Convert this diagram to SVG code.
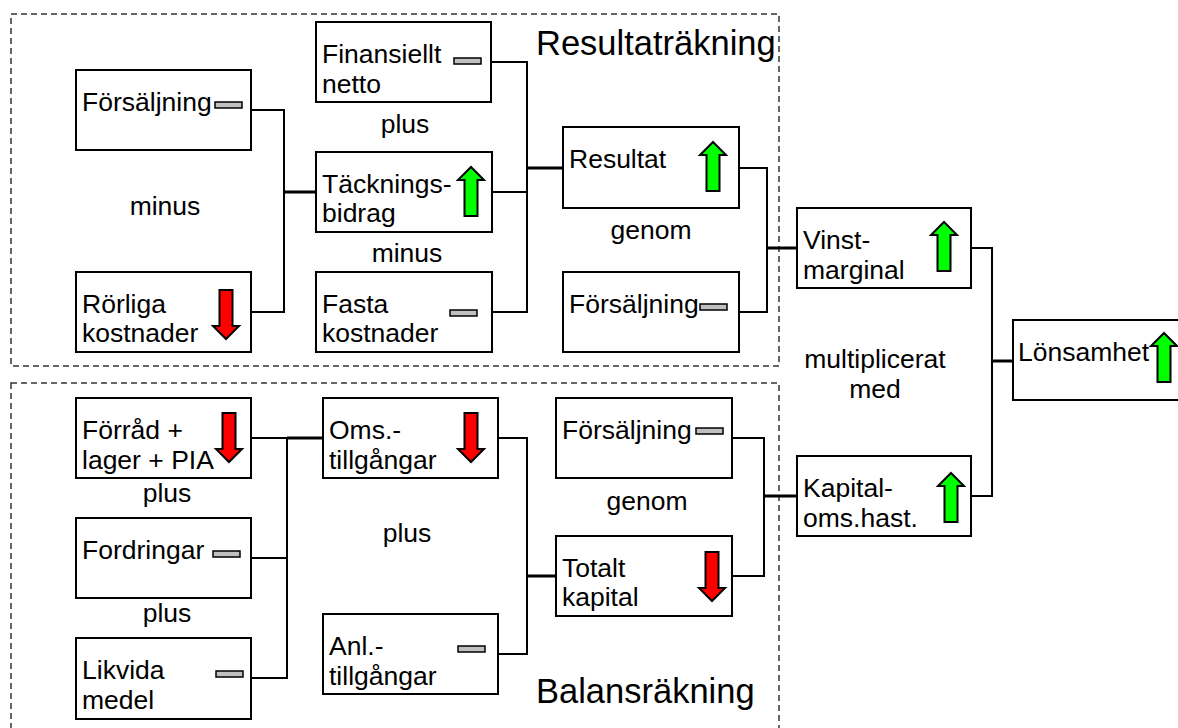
<svg xmlns="http://www.w3.org/2000/svg" width="1178" height="728" viewBox="0 0 1178 728">
  <style>
    .frame { fill: none; stroke: #333; stroke-width: 1.5; stroke-dasharray: 6 4; }
    .box { fill: #fff; stroke: #000; stroke-width: 2; }
    .lbl { font-family: "Liberation Sans", Arial, sans-serif; font-size: 26.5px; fill: #000; }
    .op { font-family: "Liberation Sans", Arial, sans-serif; font-size: 26.5px; fill: #000; text-anchor: middle; }
    .title { font-family: "Liberation Sans", Arial, sans-serif; font-size: 34.5px; fill: #000; }
    .wire { fill: none; stroke: #000; stroke-width: 2; }
    .wire.out { stroke-width: 3; }
    .flat { fill: #c0c0c0; stroke: #000; stroke-width: 1.5; }
    .up { fill: #00ff00; stroke: #000; stroke-width: 2; stroke-linejoin: miter; }
    .down { fill: #ff0000; stroke: #000; stroke-width: 2; stroke-linejoin: miter; }
  </style>
  <defs>
    <!-- trend indicators, origin at top-left of a 26x49 cell -->
    <path id="arrowUp" class="up" d="M13,0 L26,13 L19.5,13 L19.5,49 L6.5,49 L6.5,13 L0,13 Z"/>
    <path id="arrowDown" class="down" d="M6.5,0 L19.5,0 L19.5,36 L26,36 L13,49 L0,36 L6.5,36 Z"/>
    <rect id="flat" class="flat" width="27" height="6"/>
  </defs>

  <rect width="1178" height="728" fill="#fff"/>

  <!-- section frames -->
  <rect class="frame" x="11" y="14" width="768" height="352"/>
  <rect class="frame" x="11" y="383" width="768" height="360"/>
  <text class="title" x="536" y="55">Resultaträkning</text>
  <text class="title" x="536" y="703">Balansräkning</text>

  <!-- connectors -->
  <g id="connectors">
    <path class="wire" d="M251,110 H284 V312 H251"/>
    <path class="wire out" d="M284,192 H316"/>
    <path class="wire" d="M491,62 H527 V312 H492 M492,192 H527"/>
    <path class="wire out" d="M527,168 H563"/>
    <path class="wire" d="M739,168 H767 V312 H739"/>
    <path class="wire out" d="M767,248 H797"/>
    <path class="wire" d="M971,248 H992 V496 H971"/>
    <path class="wire out" d="M992,361 H1013"/>
    <path class="wire" d="M251,438 H287 V678 H251 M251,558 H287"/>
    <path class="wire out" d="M287,438 H323"/>
    <path class="wire" d="M498,438 H527 V654 H498"/>
    <path class="wire out" d="M527,576 H556"/>
    <path class="wire" d="M732,438 H764 V576 H732"/>
    <path class="wire out" d="M764,496 H797"/>
  </g>

  <!-- operator labels -->
  <g id="operators">
    <text class="op" x="165" y="215">minus</text>
    <text class="op" x="405" y="133">plus</text>
    <text class="op" x="407" y="262">minus</text>
    <text class="op" x="651" y="239">genom</text>
    <text class="op" x="875" y="368">multiplicerat</text>
    <text class="op" x="875" y="398">med</text>
    <text class="op" x="167" y="502">plus</text>
    <text class="op" x="167" y="622">plus</text>
    <text class="op" x="407" y="542">plus</text>
    <text class="op" x="647" y="510">genom</text>
  </g>

  <g id="forsaljning-1">
    <rect class="box" x="76" y="70" width="175" height="80"/>
    <text class="lbl" x="82" y="111">Försäljning</text>
    <use href="#flat" x="215" y="102"/>
  </g>
  <g id="rorliga-kostnader">
    <rect class="box" x="76" y="272" width="175" height="80"/>
    <text class="lbl" x="82" y="313">Rörliga</text>
    <text class="lbl" x="82" y="342">kostnader</text>
    <use href="#arrowDown" x="213" y="290"/>
  </g>
  <g id="finansiellt-netto">
    <rect class="box" x="316" y="22" width="175" height="80"/>
    <text class="lbl" x="322" y="63">Finansiellt</text>
    <text class="lbl" x="322" y="93">netto</text>
    <use href="#flat" x="454" y="58"/>
  </g>
  <g id="tackningsbidrag">
    <rect class="box" x="316" y="152" width="176" height="80"/>
    <text class="lbl" x="322" y="193">Täcknings-</text>
    <text class="lbl" x="322" y="222">bidrag</text>
    <use href="#arrowUp" x="458" y="167"/>
  </g>
  <g id="fasta-kostnader">
    <rect class="box" x="316" y="272" width="176" height="80"/>
    <text class="lbl" x="322" y="313">Fasta</text>
    <text class="lbl" x="322" y="342">kostnader</text>
    <use href="#flat" x="450" y="310"/>
  </g>
  <g id="resultat">
    <rect class="box" x="563" y="127" width="176" height="81"/>
    <text class="lbl" x="569" y="168">Resultat</text>
    <use href="#arrowUp" x="700" y="142"/>
  </g>
  <g id="forsaljning-2">
    <rect class="box" x="563" y="272" width="176" height="80"/>
    <text class="lbl" x="569" y="313">Försäljning</text>
    <use href="#flat" x="700" y="304"/>
  </g>
  <g id="vinstmarginal">
    <rect class="box" x="797" y="208" width="174" height="80"/>
    <text class="lbl" x="803" y="249">Vinst-</text>
    <text class="lbl" x="803" y="279">marginal</text>
    <use href="#arrowUp" x="931" y="222"/>
  </g>
  <g id="lonsamhet">
    <rect class="box" x="1013" y="320" width="180" height="80"/>
    <text class="lbl" x="1018" y="361">Lönsamhet</text>
    <use href="#arrowUp" x="1151" y="333"/>
  </g>

  <g id="forrad-lager-pia">
    <rect class="box" x="76" y="398" width="175" height="80"/>
    <text class="lbl" x="82" y="439">Förråd +</text>
    <text class="lbl" x="82" y="469">lager + PIA</text>
    <use href="#arrowDown" x="216" y="413"/>
  </g>
  <g id="fordringar">
    <rect class="box" x="76" y="518" width="175" height="80"/>
    <text class="lbl" x="82" y="559">Fordringar</text>
    <use href="#flat" x="213" y="551"/>
  </g>
  <g id="likvida-medel">
    <rect class="box" x="76" y="638" width="175" height="81"/>
    <text class="lbl" x="82" y="679">Likvida</text>
    <text class="lbl" x="82" y="709">medel</text>
    <use href="#flat" x="216" y="671"/>
  </g>
  <g id="oms-tillgangar">
    <rect class="box" x="323" y="398" width="175" height="80"/>
    <text class="lbl" x="329" y="439">Oms.-</text>
    <text class="lbl" x="329" y="469">tillgångar</text>
    <use href="#arrowDown" x="458" y="413"/>
  </g>
  <g id="anl-tillgangar">
    <rect class="box" x="323" y="614" width="175" height="80"/>
    <text class="lbl" x="329" y="655">Anl.-</text>
    <text class="lbl" x="329" y="685">tillgångar</text>
    <use href="#flat" x="458" y="646"/>
  </g>
  <g id="forsaljning-3">
    <rect class="box" x="556" y="398" width="176" height="80"/>
    <text class="lbl" x="562" y="439">Försäljning</text>
    <use href="#flat" x="696" y="428"/>
  </g>
  <g id="totalt-kapital">
    <rect class="box" x="556" y="536" width="176" height="80"/>
    <text class="lbl" x="562" y="577">Totalt</text>
    <text class="lbl" x="562" y="606">kapital</text>
    <use href="#arrowDown" x="699" y="552"/>
  </g>
  <g id="kapitalomsattningshastighet">
    <rect class="box" x="797" y="456" width="174" height="80"/>
    <text class="lbl" x="803" y="497">Kapital-</text>
    <text class="lbl" x="803" y="527">oms.hast.</text>
    <use href="#arrowUp" x="938" y="473"/>
  </g>
</svg>
